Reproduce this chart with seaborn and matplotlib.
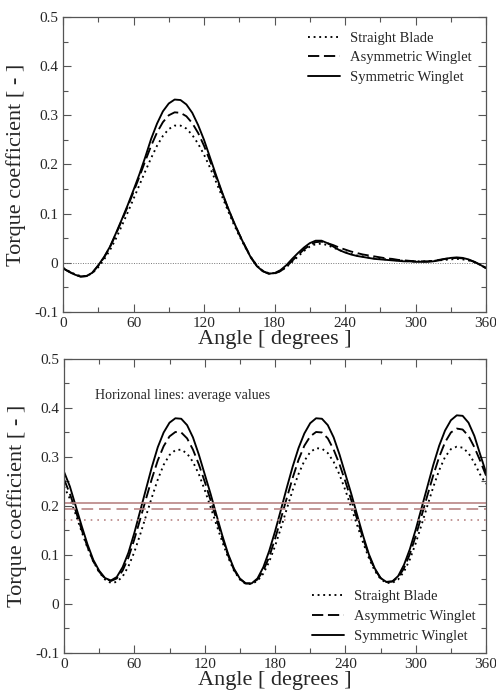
import numpy as np
import pandas as pd
import matplotlib
matplotlib.use("Agg")
import matplotlib.pyplot as plt
from matplotlib.ticker import MultipleLocator, FuncFormatter
import seaborn as sns

# angle grid read every 5 degrees
angle = list(range(0, 365, 5))

# top panel: single blade torque coefficient
top_straight = [-0.010, -0.017, -0.023, -0.027, -0.027, -0.021, -0.009, 0.007, 0.026, 0.049,
                0.075, 0.102, 0.130, 0.158, 0.186, 0.213, 0.238, 0.258, 0.272, 0.279,
                0.279, 0.273, 0.260, 0.242, 0.220, 0.194, 0.166, 0.137, 0.108, 0.080,
                0.055, 0.032, 0.011, -0.006, -0.016, -0.021, -0.021, -0.017, -0.009, 0.002,
                0.013, 0.024, 0.033, 0.038, 0.039, 0.036, 0.031, 0.026, 0.022, 0.018,
                0.015, 0.013, 0.011, 0.009, 0.008, 0.007, 0.006, 0.005, 0.004, 0.003,
                0.003, 0.003, 0.003, 0.004, 0.005, 0.006, 0.007, 0.008, 0.007, 0.005,
                0.001, -0.004, -0.010]
top_asym = [-0.011, -0.018, -0.024, -0.028, -0.027, -0.020, -0.006, 0.011, 0.032, 0.058,
            0.086, 0.114, 0.144, 0.175, 0.207, 0.238, 0.265, 0.286, 0.300, 0.306,
            0.305, 0.298, 0.284, 0.264, 0.238, 0.208, 0.176, 0.144, 0.113, 0.084,
            0.058, 0.034, 0.011, -0.006, -0.017, -0.022, -0.022, -0.017, -0.008, 0.004,
            0.016, 0.027, 0.036, 0.042, 0.043, 0.040, 0.036, 0.031, 0.027, 0.023,
            0.020, 0.017, 0.015, 0.013, 0.011, 0.009, 0.008, 0.006, 0.005, 0.004,
            0.003, 0.003, 0.003, 0.004, 0.006, 0.008, 0.009, 0.010, 0.009, 0.006,
            0.002, -0.004, -0.011]
top_sym = [-0.011, -0.018, -0.024, -0.028, -0.027, -0.020, -0.005, 0.012, 0.033, 0.060,
           0.088, 0.117, 0.148, 0.180, 0.215, 0.252, 0.283, 0.308, 0.324, 0.332,
           0.331, 0.322, 0.305, 0.280, 0.250, 0.215, 0.180, 0.146, 0.114, 0.085,
           0.058, 0.033, 0.010, -0.007, -0.017, -0.022, -0.021, -0.015, -0.005, 0.008,
           0.020, 0.031, 0.040, 0.045, 0.045, 0.040, 0.033, 0.026, 0.021, 0.017,
           0.014, 0.012, 0.010, 0.008, 0.007, 0.006, 0.005, 0.004, 0.003, 0.003,
           0.002, 0.002, 0.002, 0.003, 0.005, 0.008, 0.010, 0.011, 0.010, 0.007,
           0.002, -0.004, -0.011]

# bottom panel: three-blade rotor torque coefficient
bot_straight = [0.240, 0.215, 0.183, 0.148, 0.115, 0.087, 0.065, 0.050, 0.043, 0.045,
                0.056, 0.077, 0.106, 0.142, 0.180, 0.218, 0.254, 0.284, 0.304, 0.314,
                0.315, 0.307, 0.290, 0.265, 0.233, 0.198, 0.162, 0.127, 0.095, 0.068,
                0.050, 0.041, 0.041, 0.047, 0.062, 0.086, 0.118, 0.155, 0.194, 0.232,
                0.265, 0.292, 0.310, 0.318, 0.317, 0.308, 0.290, 0.264, 0.232, 0.197,
                0.161, 0.126, 0.094, 0.068, 0.051, 0.043, 0.043, 0.050, 0.066, 0.091,
                0.124, 0.162, 0.201, 0.239, 0.273, 0.300, 0.316, 0.321, 0.319, 0.308,
                0.288, 0.264, 0.245]
bot_asym = [0.255, 0.225, 0.190, 0.152, 0.117, 0.087, 0.066, 0.052, 0.047, 0.052,
            0.068, 0.095, 0.132, 0.173, 0.215, 0.256, 0.293, 0.322, 0.342, 0.351,
            0.350, 0.338, 0.315, 0.285, 0.250, 0.212, 0.173, 0.135, 0.099, 0.070,
            0.051, 0.042, 0.042, 0.050, 0.068, 0.096, 0.133, 0.174, 0.216, 0.257,
            0.294, 0.323, 0.342, 0.351, 0.350, 0.338, 0.315, 0.285, 0.250, 0.212,
            0.173, 0.135, 0.099, 0.071, 0.053, 0.045, 0.046, 0.054, 0.073, 0.102,
            0.139, 0.180, 0.222, 0.263, 0.300, 0.330, 0.350, 0.358, 0.356, 0.343,
            0.320, 0.292, 0.262]
bot_sym = [0.270, 0.240, 0.200, 0.160, 0.122, 0.090, 0.068, 0.053, 0.048, 0.055,
           0.075, 0.105, 0.145, 0.190, 0.235, 0.280, 0.320, 0.350, 0.370, 0.379,
           0.378, 0.365, 0.340, 0.305, 0.265, 0.225, 0.182, 0.140, 0.102, 0.072,
           0.052, 0.042, 0.042, 0.052, 0.075, 0.108, 0.148, 0.192, 0.237, 0.280,
           0.318, 0.348, 0.369, 0.379, 0.378, 0.365, 0.340, 0.305, 0.265, 0.225,
           0.182, 0.140, 0.102, 0.073, 0.053, 0.045, 0.046, 0.057, 0.080, 0.112,
           0.152, 0.196, 0.240, 0.284, 0.323, 0.354, 0.375, 0.385, 0.384, 0.370,
           0.343, 0.305, 0.268]

# average values (horizontal lines)
avg_straight = 0.172
avg_asym = 0.194
avg_sym = 0.206

names = ["Straight Blade", "Asymmetric Winglet", "Symmetric Winglet"]

sns.set_theme(style="ticks")
plt.rcParams["font.family"] = ["Liberation Serif", "DejaVu Serif"]

dashes = {"Straight Blade": (1, 2), "Asymmetric Winglet": (6, 2.5), "Symmetric Winglet": ""}
palette = {n: "black" for n in names}
avg_color = "#b98585"


def long_frame(series):
    parts = []
    for name, vals in zip(names, series):
        parts.append(pd.DataFrame({"angle": angle, "cq": vals, "case": name}))
    return pd.concat(parts, ignore_index=True)


def style_axes(ax, legend_loc, pad):
    ax.set_xlim(0, 360)
    ax.set_ylim(-0.1, 0.5)
    ax.xaxis.set_major_locator(MultipleLocator(60))
    ax.xaxis.set_minor_locator(MultipleLocator(30))
    ax.yaxis.set_major_locator(MultipleLocator(0.1))
    ax.yaxis.set_minor_locator(MultipleLocator(0.05))
    ax.yaxis.set_major_formatter(FuncFormatter(lambda v, p: "%g" % round(v, 2)))
    ax.tick_params(which="both", direction="in", top=True, right=True,
                   labelsize=11, color="#555555")
    ax.tick_params(which="major", length=6, width=0.8)
    ax.tick_params(which="minor", length=3.5, width=0.8)
    for s in ax.spines.values():
        s.set_color("#555555")
        s.set_linewidth(0.9)
    ax.set_xlabel("Angle [ degrees ]", fontsize=16, labelpad=0)
    ax.set_ylabel("Torque coefficient [ - ]", fontsize=16, labelpad=6)
    ax.legend(loc=legend_loc, frameon=False, fontsize=10.5, handlelength=2.2,
              handletextpad=0.7, labelspacing=0.45, borderaxespad=pad)


fig = plt.figure(figsize=(4.96, 6.91), dpi=100)
ax1 = fig.add_axes([0.127, 0.5485, 0.853, 0.427])
ax2 = fig.add_axes([0.129, 0.055, 0.851, 0.4255])

# top panel
ax1.axhline(0, color="#777777", lw=0.7, ls=(0, (1, 1.5)))
sns.lineplot(data=long_frame([top_straight, top_asym, top_sym]), x="angle", y="cq",
             hue="case", style="case", hue_order=names, style_order=names,
             palette=palette, dashes=dashes, lw=1.35, ax=ax1)
style_axes(ax1, "upper right", 0.6)

# bottom panel
sns.lineplot(data=long_frame([bot_straight, bot_asym, bot_sym]), x="angle", y="cq",
             hue="case", style="case", hue_order=names, style_order=names,
             palette=palette, dashes=dashes, lw=1.35, ax=ax2)
ax2.axhline(avg_sym, color=avg_color, lw=1.2)
ax2.axhline(avg_asym, color=avg_color, lw=1.2, ls=(0, (7, 3.5)))
ax2.axhline(avg_straight, color=avg_color, lw=1.2, ls=(0, (1, 3)))
ax2.text(0.073, 0.877, "Horizonal lines: average values", transform=ax2.transAxes,
         fontsize=10, va="center")
style_axes(ax2, "lower right", 0.3)

fig.savefig("out.png", dpi=100)
